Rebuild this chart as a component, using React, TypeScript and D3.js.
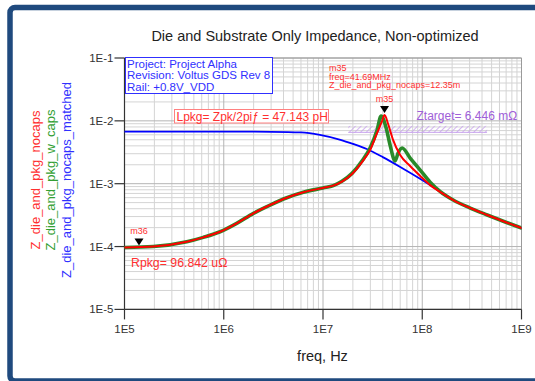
import React from "react";
import * as d3 from "d3";

const W = 535;
const H = 381;

const titleText = "Die and Substrate Only Impedance, Non-optimized";
const xTickValues = [1e5, 1e6, 1e7, 1e8, 1e9];
const xTickLabels = ["1E5", "1E6", "1E7", "1E8", "1E9"];
const yTickValues = [1e-1, 1e-2, 1e-3, 1e-4, 1e-5];
const yTickLabels = ["1E-1", "1E-2", "1E-3", "1E-4", "1E-5"];

const seriesNames = ["Z_die_and_pkg_nocaps", "Z_die_and_pkg_w_caps", "Z_die_and_pkg_nocaps_matched"];

const freqRed = [1e5, 1.95e5, 4.24e5, 6.22e5, 9.18e5, 1.35e6, 1.99e6, 2.93e6, 4.32e6, 6.34e6, 1.0e7, 1.27e7, 1.55e7, 1.96e7, 2.47e7, 2.98e7, 3.51e7, 3.94e7, 4.169e7, 4.53e7, 5.09e7, 5.99e7, 7.55e7, 9.53e7, 1.2e8, 1.52e8, 2.05e8, 3.04e8, 4.52e8, 6.86e8, 1e9];
const zRed = [9.68e-5, 1.0e-4, 1.19e-4, 1.4e-4, 1.72e-4, 2.34e-4, 3.38e-4, 4.58e-4, 5.98e-4, 7.3e-4, 8.55e-4, 9.3e-4, 1.08e-3, 1.43e-3, 2.21e-3, 3.44e-3, 6.41e-3, 9.96e-3, 1.235e-2, 8.9e-3, 4.95e-3, 2.86e-3, 1.91e-3, 1.33e-3, 9.5e-4, 7.38e-4, 5.5e-4, 4.1e-4, 3.18e-4, 2.46e-4, 1.97e-4];

const freqGreen = [1e5, 1.95e5, 4.24e5, 6.22e5, 9.18e5, 1.35e6, 1.99e6, 2.93e6, 4.32e6, 6.34e6, 1.0e7, 1.27e7, 1.55e7, 1.96e7, 2.47e7, 2.98e7, 3.51e7, 3.85e7, 4.33e7, 4.74e7, 5.33e7, 5.71e7, 6.27e7, 7.55e7, 9.53e7, 1.2e8, 1.52e8, 2.05e8, 3.04e8, 4.52e8, 6.86e8, 1e9];
const zGreen = [9.68e-5, 1.0e-4, 1.19e-4, 1.4e-4, 1.72e-4, 2.34e-4, 3.38e-4, 4.58e-4, 5.98e-4, 7.3e-4, 8.55e-4, 9.3e-4, 1.09e-3, 1.46e-3, 2.3e-3, 3.7e-3, 7.15e-3, 1.19e-2, 7.7e-3, 4.13e-3, 2.3e-3, 3.08e-3, 3.7e-3, 2.56e-3, 1.65e-3, 1.06e-3, 7.5e-4, 5.5e-4, 4.1e-4, 3.18e-4, 2.46e-4, 1.97e-4];

const freqBlue = [1e5, 1e6, 3e6, 6e6, 9.3e6, 1.5e7, 2e7, 2.76e7, 4e7, 6e7, 9.5e7, 1.5e8, 2.05e8, 3.04e8, 4.52e8, 6.86e8, 1e9];
const zBlue = [6.75e-3, 6.75e-3, 6.7e-3, 6.55e-3, 6.0e-3, 5.0e-3, 4.3e-3, 3.56e-3, 2.65e-3, 1.85e-3, 1.2e-3, 7.6e-4, 5.5e-4, 4.1e-4, 3.18e-4, 2.46e-4, 1.97e-4];

const markerNames = ["m35", "m36"];
const markerFreqs = [4.169e7, 1.4e5];
const markerValues = [1.235e-2, 9.6842e-5];

const infoLines = ["Project: Project Alpha", "Revision: Voltus GDS Rev 8", "Rail: +0.8V_VDD"];
const readoutLines = ["m35", "freq=41.69MHz", "Z_die_and_pkg_nocaps=12.35m"];
const lpkgText = "Lpkg= Zpk/2piƒ = 47.143 pH";
const rpkgText = "Rpkg= 96.842 uΩ";
const ztargetText = "Ztarget= 6.446 mΩ";
const ztargetValue = 6.446e-3;
const ztargetBand = [1.8e7, 4.5e8];

const FONT = "'Liberation Sans', Arial, sans-serif";

export default function App() {
  const x0 = 124.5, x1 = 521.5, y0 = 58, y1 = 309.4;
  const x = d3.scaleLog().domain([1e5, 1e9]).range([x0, x1]);
  const y = d3.scaleLog().domain([1e-5, 1e-1]).range([y1, y0]);

  const minorX: number[] = [];
  for (let e = 5; e < 9; e++) for (let k = 2; k <= 9; k++) minorX.push(k * Math.pow(10, e));
  const minorY: number[] = [];
  for (let e = -5; e < -1; e++) for (let k = 2; k <= 9; k++) minorY.push(k * Math.pow(10, e));

  const line = d3.line<[number, number]>().x((d) => x(d[0])).y((d) => y(d[1])).curve(d3.curveMonotoneX);
  const red = line(freqRed.map((f, i) => [f, zRed[i]]));
  const green = line(freqGreen.map((f, i) => [f, zGreen[i]]));
  const blue = line(freqBlue.map((f, i) => [f, zBlue[i]]));

  const redC = "#ff0000";
  const redT = "#ff3030";
  const greenC = "#2a8a2a";
  const blueC = "#0000ff";
  const blueT = "#3030ff";
  const purple = "#a060d8";

  return (
    <svg width={W} height={H} style={{ position: "absolute", left: 0, top: 0, display: "block", background: "#fff" }} fontFamily={FONT}>
      <defs>
        <clipPath id="plotclip">
          <rect x={x0} y={y0} width={x1 - x0} height={y1 - y0} />
        </clipPath>
        <pattern id="hatch" width="4" height="4" patternUnits="userSpaceOnUse" patternTransform="rotate(45)">
          <line x1="0" y1="0" x2="0" y2="4" stroke="#c8a4ec" strokeWidth="1.6" />
        </pattern>
      </defs>
      <rect x={0} y={0} width={W} height={H} fill="#fff" />
      {/* outer frame */}
      <rect x={10} y={7.6} width={620} height={373.4} rx={5} fill="none" stroke="#1f4a7e" strokeWidth={5.5} />

      {/* grid */}
      {minorX.map((v, i) => (
        <line key={"mx" + i} x1={x(v)} x2={x(v)} y1={y0} y2={y1} stroke="#d4d4d4" strokeWidth={1} />
      ))}
      {minorY.map((v, i) => (
        <line key={"my" + i} x1={x0} x2={x1} y1={y(v)} y2={y(v)} stroke="#d4d4d4" strokeWidth={1} />
      ))}
      {xTickValues.map((v, i) => (
        <line key={"Mx" + i} x1={x(v)} x2={x(v)} y1={y0} y2={y1} stroke="#b4b4b4" strokeWidth={1} />
      ))}
      {yTickValues.map((v, i) => (
        <line key={"My" + i} x1={x0} x2={x1} y1={y(v)} y2={y(v)} stroke="#b4b4b4" strokeWidth={1} />
      ))}
      <line x1={x0} x2={x1} y1={y0} y2={y0} stroke="#9a9a9a" />
      <line x1={x1} x2={x1} y1={y0} y2={y1} stroke="#9a9a9a" />

      {/* ztarget band */}
      <rect x={x(ztargetBand[0])} y={y(ztargetValue) - 7} width={x(ztargetBand[1]) - x(ztargetBand[0])} height={7} fill="url(#hatch)" />
      <line x1={x(ztargetBand[0])} x2={x(ztargetBand[1])} y1={y(ztargetValue) - 0.5} y2={y(ztargetValue) - 0.5} stroke="#c8a4ec" strokeWidth={1} />

      {/* axes */}
      <line x1={x0} x2={x0} y1={y0} y2={y1} stroke="#333" strokeWidth={1.2} />
      <line x1={x0} x2={x1} y1={y1} y2={y1} stroke="#333" strokeWidth={1.2} />
      {yTickValues.map((v, i) => (
        <g key={"yt" + i}>
          <line x1={x0 - 10} x2={x0} y1={y(v)} y2={y(v)} stroke="#333" strokeWidth={1.2} />
          <text x={x0 - 11} y={y(v)} dy="0.35em" textAnchor="end" fontSize={11.5} fill="#333">{yTickLabels[i]}</text>
        </g>
      ))}
      {xTickValues.map((v, i) => (
        <g key={"xt" + i}>
          <line x1={x(v)} x2={x(v)} y1={y1} y2={y1 + 10} stroke="#333" strokeWidth={1.2} />
          <text x={x(v)} y={y1 + 20} dy="0.35em" textAnchor="middle" fontSize={11.5} fill="#333">{xTickLabels[i]}</text>
        </g>
      ))}

      {/* curves */}
      <g clipPath="url(#plotclip)" fill="none" strokeLinejoin="round" strokeLinecap="round">
        <path d={blue || ""} stroke={blueC} strokeWidth={1.8} />
        <path d={green || ""} stroke={greenC} strokeWidth={3.6} />
        <path d={red || ""} stroke={redC} strokeWidth={2} />
      </g>

      {/* markers */}
      {markerNames.map((m, i) => {
        const mx = x(markerFreqs[i]);
        const my = y(markerValues[i]) - 2;
        return (
          <g key={m}>
            <path d={`M${mx - 4.5},${my - 7} L${mx + 4.5},${my - 7} L${mx},${my} Z`} fill="#000" />
            <text x={mx} y={my - 11} textAnchor="middle" fontSize={9} fill={redT}>{m}</text>
          </g>
        );
      })}

      {/* title */}
      <text x={315} y={35.5} dy="0.35em" textAnchor="middle" fontSize={14.5} fill="#222">{titleText}</text>

      {/* info box */}
      <rect x={125.5} y={57.5} width={147} height={36} fill="#fff" stroke={blueT} strokeWidth={1} />
      {infoLines.map((t, i) => (
        <text key={t} x={127} y={64 + i * 11.4} dy="0.35em" fontSize={11.5} fill={blueT}>{t}</text>
      ))}

      {/* readout */}
      {readoutLines.map((t, i) => (
        <text key={t} x={329} y={68 + i * 8.6} dy="0.35em" fontSize={9} fill={redT}>{t}</text>
      ))}

      {/* Lpkg box */}
      <rect x={174.5} y={109.5} width={154} height={13.5} fill="#fff" stroke="#ff8080" strokeWidth={1} />
      <text x={176.5} y={116.3} dy="0.35em" fontSize={12} fill={redT}>{lpkgText}</text>

      <text x={416.5} y={115.7} dy="0.35em" fontSize={12} fill={purple}>{ztargetText}</text>
      <text x={131} y={262.3} dy="0.35em" fontSize={12.3} fill={redT}>{rpkgText}</text>

      {/* axis titles */}
      <text x={322.5} y={355.7} dy="0.35em" textAnchor="middle" fontSize={14.5} fill="#222">freq, Hz</text>
      {[redT, greenC, blueT].map((c, i) => (
        <text key={i} transform={`translate(${35 + i * 15.6},180) rotate(-90)`} dy="0.35em" textAnchor="middle" fontSize={13} fill={i === 1 ? "#33a033" : c}>{seriesNames[i]}</text>
      ))}
    </svg>
  );
}
